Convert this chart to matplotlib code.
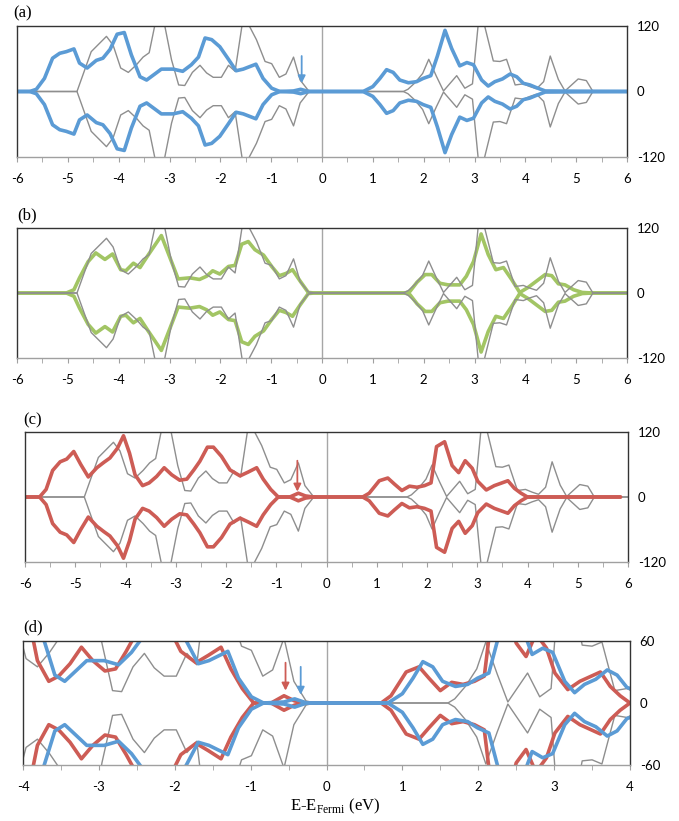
import matplotlib
matplotlib.use("Agg")
import matplotlib.pyplot as plt

# Curva de referencia (gris), solo espín arriba; el espín abajo es su reflejo
energia_gris = [-6.0, -4.82, -4.54, -4.24, -4.11, -3.96, -3.81, -3.65, -3.52, -3.40, -3.19,
                -2.96, -2.82, -2.70, -2.55, -2.40, -2.27, -2.14, -1.98, -1.84, -1.71, -1.51,
                -1.43, -1.29, -1.12, -0.99, -0.84, -0.71, -0.56, -0.43, -0.27, -0.15, 1.60,
                1.69, 1.83, 1.98, 2.10, 2.25, 2.39, 2.65, 2.81, 2.96, 3.13, 3.20, 3.37, 3.50,
                3.63, 3.80, 3.96, 4.09, 4.22, 4.36, 4.49, 4.65, 4.78, 5.04, 5.20, 5.33, 6.0]
dos_gris = [0, 0, 73, 101, 85, 43, 35, 49, 63, 71, 166,
            58, 12, 11, 35, 48, 34, 26, 26, 48, 37, 160,
            120, 95, 55, 51, 26, 32, 63, 21, 2, 0, 0,
            4, 16, 33, 59, 28, 1, 29, 6, 14, 178, 120, 56, 55,
            59, 12, 14, 9, 5, 18, 65, 22, 1, 23, 20, 0, 0]

# Curva azul (a)
energia_azul = [-6.0, -5.75, -5.62, -5.46, -5.30, -5.16, -5.03, -4.88, -4.77, -4.62, -4.44,
                -4.31, -4.17, -4.03, -3.89, -3.75, -3.58, -3.45, -3.29, -3.16, -2.93, -2.74,
                -2.57, -2.43, -2.30, -2.17, -2.01, -1.84, -1.69, -1.55, -1.30, -1.16, -0.99,
                -0.83, -0.56, -0.42, -0.26, 0.81, 1.00, 1.14, 1.27, 1.40, 1.53, 1.70, 1.86,
                1.99, 2.14, 2.27, 2.42, 2.55, 2.71, 2.85, 2.98, 3.14, 3.27, 3.40, 3.55, 3.70,
                3.83, 3.96, 4.09, 4.22, 4.39, 6.0]
dos_azul = [0, 0, 4, 24, 61, 70, 73, 78, 52, 43, 57,
            61, 77, 105, 108, 67, 27, 21, 32, 41, 41, 37,
            49, 63, 98, 95, 82, 59, 38, 41, 50, 24, 6,
            0, 1, 4, 0, 0, 9, 24, 40, 35, 21, 16, 18,
            24, 29, 65, 112, 79, 47, 53, 49, 21, 10, 18, 23, 32,
            27, 15, 12, 7, 1, 0]

# Curva verde (b)
energia_verde = [-6.0, -5.03, -4.88, -4.77, -4.60, -4.45, -4.27, -4.12, -3.96, -3.86, -3.71,
                 -3.58, -3.42, -3.16, -2.99, -2.83, -2.60, -2.41, -2.27, -2.15, -2.01, -1.84,
                 -1.71, -1.58, -1.45, -1.32, -1.15, -0.99, -0.84, -0.71, -0.58, -0.43, -0.27,
                 -0.15, 1.63, 1.73, 1.87, 2.03, 2.16, 2.32, 2.48, 2.71, 2.84, 2.98, 3.13, 3.27,
                 3.42, 3.57, 3.73, 3.89, 4.05, 4.22, 4.39, 4.52, 4.65, 4.78, 4.95, 5.12, 5.33, 6.0]
dos_verde = [0, 0, 6, 28, 58, 74, 62, 72, 43, 41, 55,
             47, 70, 106, 65, 26, 28, 25, 31, 41, 35, 49,
             51, 90, 95, 80, 70, 49, 32, 36, 43, 22, 1,
             0, 0, 3, 20, 34, 34, 18, 15, 15, 31, 58, 109, 71,
             43, 47, 25, 1, 10, 22, 34, 32, 17, 15, 6, 1, 0, 0]

# Curva roja (c)
energia_roja = [-6.0, -5.71, -5.58, -5.45, -5.30, -5.17, -5.03, -4.89, -4.74, -4.57, -4.43,
                -4.31, -4.16, -4.04, -3.92, -3.81, -3.66, -3.53, -3.38, -3.23, -3.08, -2.92,
                -2.78, -2.64, -2.52, -2.37, -2.25, -2.09, -1.92, -1.72, -1.56, -1.39, -1.26,
                -1.11, -0.96, -0.73, -0.56, -0.42, -0.26, 0.72, 0.85, 1.05, 1.22, 1.35, 1.50,
                1.65, 1.80, 1.95, 2.08, 2.19, 2.35, 2.50, 2.63, 2.76, 2.90, 3.01, 3.18, 3.34,
                3.49, 3.61, 3.74, 3.87, 4.00, 5.85]
dos_roja = [0, 0, 14, 49, 65, 70, 84, 60, 37, 54, 64,
            72, 90, 113, 81, 41, 21, 26, 38, 54, 41, 31,
            33, 50, 66, 92, 92, 75, 50, 39, 46, 54, 33,
            14, 0, 0, 7, 2, 0, 0, 7, 30, 35, 24, 12,
            20, 18, 21, 26, 93, 102, 58, 45, 67, 53, 29, 13, 21,
            26, 30, 16, 7, 0, 0]

# Flechas: (x, y inicio, y final, color) para cada panel
flechas_a = [(-0.40, 65, 15, "#5B9BD5")]
flechas_c = [(-0.58, 67, 10, "#CD5C55")]
flechas_d = [(-0.54, 39, 12, "#CD5C55"), (-0.34, 35, 8, "#5B9BD5")]

etiquetas = ["(a)", "(b)", "(c)", "(d)"]

GRIS = "#8e8e8e"
AZUL = "#5B9BD5"
VERDE = "#A2C564"
ROJO = "#CD5C55"

plt.rcParams["mathtext.fontset"] = "custom"
plt.rcParams["mathtext.rm"] = "Liberation Serif"


# Dibuja una curva de espín arriba y su reflejo de espín abajo
def dibujar_curva(ax, energia, dos, color, ancho):
    ax.plot(energia, dos, color=color, lw=ancho, solid_joinstyle="round", solid_capstyle="round")
    ax.plot(energia, [-d for d in dos], color=color, lw=ancho,
            solid_joinstyle="round", solid_capstyle="round")


# Da formato a un panel
def formato_panel(ax, xmin, xmax, ymax):
    ax.set_xlim(xmin, xmax)
    ax.set_ylim(-ymax, ymax)
    ax.axvline(0, color="#a6a6a6", lw=1.0, zorder=1)
    ax.set_xticks(range(xmin, xmax + 1))
    ax.set_xticks([x + 0.5 for x in range(xmin, xmax)], minor=True)
    ax.set_xticklabels([str(x) for x in range(xmin, xmax + 1)], fontfamily="Lato", fontsize=9.5)
    ax.tick_params(axis="x", which="both", direction="out", length=3.5, color="#a0a0a0", pad=8)
    ax.yaxis.tick_right()
    ax.set_yticks([ymax, 0, -ymax])
    ax.set_yticklabels([str(ymax), "0", str(-ymax)], fontfamily="Lato", fontsize=9.5)
    ax.tick_params(axis="y", length=0, pad=7)
    for lado in ["top", "left", "right"]:
        ax.spines[lado].set_color("#333333")
        ax.spines[lado].set_linewidth(1.0)
    ax.spines["bottom"].set_color("#a0a0a0")
    ax.spines["bottom"].set_linewidth(1.0)


def dibujar_flechas(ax, flechas):
    for x, y0, y1, color in flechas:
        ax.annotate("", xy=(x, y1), xytext=(x, y0),
                    arrowprops=dict(arrowstyle="-|>", color=color, lw=1.3,
                                    mutation_scale=11, shrinkA=0, shrinkB=0), zorder=5)


fig = plt.figure(figsize=(6.79, 8.21), dpi=100)
W, H = 679.0, 821.0

# Posiciones de los paneles en pixeles: izquierda, arriba, derecha, abajo
cajas = [(17, 26, 627, 157), (17, 228, 627, 358), (25, 432, 628, 562), (23, 641, 630, 765)]
ejes = []
for izq, arr, der, aba in cajas:
    ejes.append(fig.add_axes([izq / W, 1 - aba / H, (der - izq) / W, (aba - arr) / H]))

# Panel (a)
ax = ejes[0]
dibujar_curva(ax, energia_gris, dos_gris, GRIS, 1.0)
dibujar_curva(ax, energia_azul, dos_azul, AZUL, 2.6)
formato_panel(ax, -6, 6, 120)
dibujar_flechas(ax, flechas_a)

# Panel (b)
ax = ejes[1]
dibujar_curva(ax, energia_verde, dos_verde, VERDE, 2.6)
dibujar_curva(ax, energia_gris, dos_gris, GRIS, 1.0)
formato_panel(ax, -6, 6, 120)

# Panel (c)
ax = ejes[2]
dibujar_curva(ax, energia_gris, dos_gris, GRIS, 1.0)
dibujar_curva(ax, energia_roja, dos_roja, ROJO, 2.6)
formato_panel(ax, -6, 6, 120)
dibujar_flechas(ax, flechas_c)

# Panel (d): ampliacion de (a) y (c)
ax = ejes[3]
dibujar_curva(ax, energia_gris, dos_gris, GRIS, 1.0)
dibujar_curva(ax, energia_roja, dos_roja, ROJO, 2.6)
dibujar_curva(ax, energia_azul, dos_azul, AZUL, 2.6)
formato_panel(ax, -4, 4, 60)
dibujar_flechas(ax, flechas_d)

# Etiquetas de los paneles
posiciones_etiquetas = [(13, 5), (17, 207), (23, 412), (23, 619)]
for texto, (x, y) in zip(etiquetas, posiciones_etiquetas):
    fig.text(x / W, 1 - y / H, texto, fontfamily="Liberation Serif", fontsize=12, va="top", ha="left")

fig.text(335 / W, 1 - 806 / H, r"E-E$_{\mathrm{Fermi}}$ (eV)", fontfamily="Liberation Serif",
         fontsize=12, ha="center", va="center")

fig.savefig("out.png", dpi=100)
